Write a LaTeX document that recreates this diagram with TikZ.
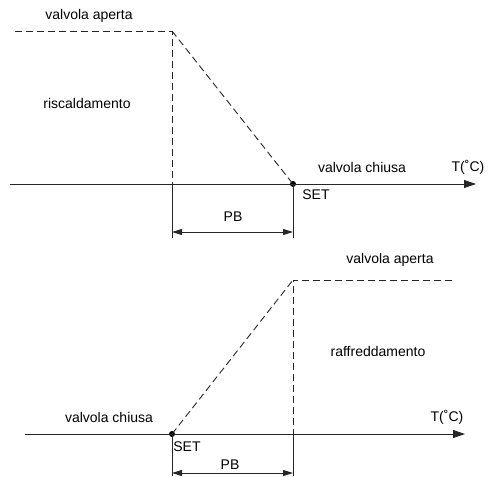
\documentclass[tikz,border=0pt]{standalone}
\usepackage{fontspec}
\setmainfont{Liberation Sans}
\usetikzlibrary{arrows.meta}
\begin{document}
\begin{tikzpicture}[x=1pt,y=-1pt,
  lbl/.style={font=\fontsize{14}{16}\selectfont, inner sep=0pt},
  dsh/.style={line width=0.9pt, dash pattern=on 7pt off 4pt, color=black!85},
  sol/.style={line width=0.9pt, color=black!85},
  axisarrow/.style={sol, -{Triangle[length=12pt,width=8pt]}},
  pbarrow/.style={sol, {Triangle[length=10pt,width=6pt]}-{Triangle[length=10pt,width=6pt]}},
  dotnode/.style={circle, fill=black, inner sep=0pt, minimum size=6pt}]
\useasboundingbox (0,0) rectangle (489,476);
% ---------- top diagram ----------
\coordinate (a1s) at (10,184);
\coordinate (a1e) at (476,184);
\coordinate (h1s) at (15,31);
\coordinate (k1) at (172,31);
\coordinate (k1b) at (172,184);
\coordinate (k1c) at (172,238);
\node[dotnode] (set1) at (293,184) {};
\coordinate (s1c) at (293,238);
\coordinate (p1a) at (172,232);
\coordinate (p1b) at (293,232);
\draw[axisarrow] (a1s) -- (a1e);
\draw[dsh] (h1s) -- (k1) -- (k1b);
\draw[dsh] (k1) -- (set1.center);
\draw[sol] (k1b) -- (k1c);
\draw[sol] (set1.center) -- (s1c);
\draw[pbarrow] (p1a) -- (p1b);
\node[lbl] (t1) at (89,16) {valvola aperta};
\node[lbl] (t2) at (87,103) {riscaldamento};
\node[lbl] (t3) at (362,167) {valvola chiusa};
\node[lbl] (t4) at (468,167) {T(˚C)};
\node[lbl] (t5) at (316,195) {SET};
\node[lbl] (t6) at (233,217) {PB};
% ---------- bottom diagram ----------
\coordinate (a2s) at (25,434);
\coordinate (a2e) at (465,434);
\node[dotnode] (set2) at (172,434) {};
\coordinate (k2) at (293,280);
\coordinate (k2b) at (293,434);
\coordinate (k2c) at (293,476);
\coordinate (h2e) at (452,280);
\coordinate (s2c) at (172,476);
\coordinate (p2a) at (172,473);
\coordinate (p2b) at (293,473);
\draw[axisarrow] (a2s) -- (a2e);
\draw[dsh] (h2e) -- (k2) -- (k2b);
\draw[dsh] (set2.center) -- (k2);
\draw[sol] (k2b) -- (k2c);
\draw[sol] (set2.center) -- (s2c);
\draw[pbarrow] (p2a) -- (p2b);
\node[lbl] (b1) at (390,260) {valvola aperta};
\node[lbl] (b2) at (378,351) {raffreddamento};
\node[lbl] (b3) at (109,417) {valvola chiusa};
\node[lbl] (b4) at (447,417) {T(˚C)};
\node[lbl] (b5) at (187,447) {SET};
\node[lbl] (b6) at (230,465) {PB};
\end{tikzpicture}
\end{document}
